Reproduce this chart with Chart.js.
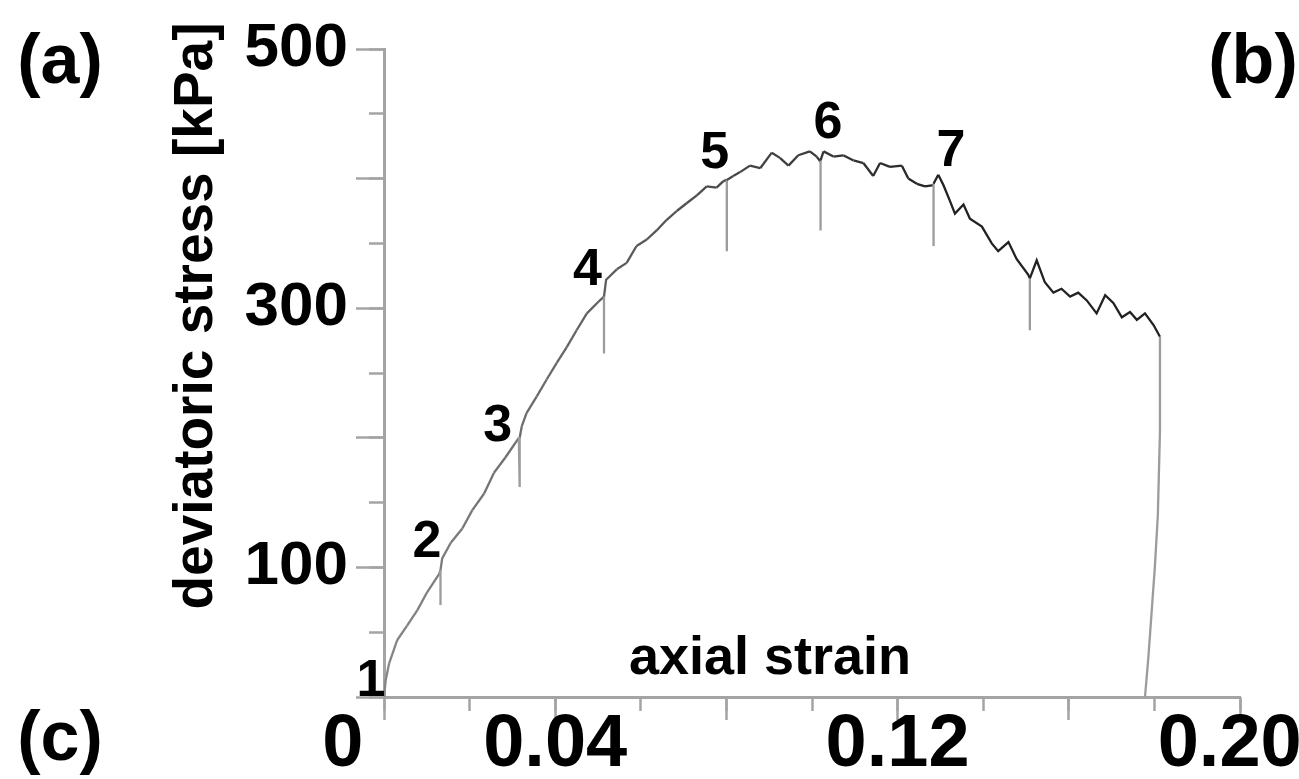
<!DOCTYPE html>
<html>
<head>
<meta charset="utf-8">
<style>
html,body{margin:0;padding:0;background:#fff;overflow:hidden}
#wrap{width:1299px;height:779px;position:relative}
</style>
<script src="https://cdn.jsdelivr.net/npm/chart.js@4.4.1/dist/chart.umd.min.js"></script>
</head>
<body>
<div id="wrap"><canvas id="c" width="1299" height="779"></canvas></div>
<script>
// ---- data ----
const strain = [
  0, 0.0004, 0.0012, 0.0031, 0.0054, 0.0078, 0.0101, 0.0129, 0.0132, 0.0132, 0.0132,
  0.0136, 0.0156, 0.0183, 0.0206, 0.0234, 0.0257, 0.0284, 0.0315, 0.0317, 0.0317,
  0.0322, 0.0333, 0.0357, 0.0380, 0.0404, 0.0427, 0.0450, 0.0474, 0.0501, 0.0514, 0.0514, 0.0514,
  0.0519, 0.0544, 0.0567, 0.0590, 0.0614, 0.0637, 0.0660, 0.0684, 0.0707, 0.0731, 0.0754, 0.0777, 0.0793, 0.0801, 0.0801, 0.0801,
  0.0816, 0.0832, 0.0855, 0.0879, 0.0906, 0.0925, 0.0945, 0.0968, 0.0995, 0.1011, 0.1020, 0.1020, 0.1020,
  0.1027, 0.1050, 0.1073, 0.1097, 0.1120, 0.1143, 0.1159, 0.1182, 0.1210, 0.1225, 0.1245, 0.1264, 0.1284, 0.1284, 0.1284,
  0.1295, 0.1307, 0.1322, 0.1334, 0.1354, 0.1369, 0.1397, 0.1420, 0.1435, 0.1459, 0.1478, 0.1505, 0.1509, 0.1509, 0.1509,
  0.1525, 0.1544, 0.1564, 0.1583, 0.1603, 0.1622, 0.1642, 0.1665, 0.1685, 0.1704, 0.1724, 0.1743, 0.1759, 0.1778, 0.1798, 0.1813,
  0.1813, 0.1808, 0.1801, 0.1786, 0.1778
];
const stress = [
  0, 13, 26, 44, 55, 67, 81, 95, 98, 71, 98,
  107, 119, 130, 144, 157, 173, 185, 200, 162, 200,
  209, 219, 232, 245, 258, 270, 283, 296, 305, 309, 265, 309,
  322, 330, 335, 348, 353, 360, 368, 375, 381, 387, 394, 393, 398, 399, 344, 399,
  402, 405, 410, 408, 420, 416, 410, 418, 421, 417, 413, 360, 414,
  421, 417, 418, 414, 412, 402, 412, 409, 410, 400, 396, 394, 395, 348, 396,
  403, 395, 383, 373, 380, 369, 363, 350, 344, 351, 338, 326, 323, 283, 323,
  337, 320, 312, 315, 309, 312, 306, 296, 310, 304, 293, 297, 291, 296, 287, 278,
  205, 140, 100, 31, 0
];
const xTickLabels = ['0', '0.04', '0.12', '0.20'];
const yTickLabels = ['100', '300', '500'];
const stageNames  = ['1', '2', '3', '4', '5', '6', '7'];
const stageStrain = [0, 0.0132, 0.0317, 0.0514, 0.0801, 0.1020, 0.1284];
const stageStress = [0, 98, 200, 309, 399, 414, 395];
const xTitle = 'axial strain';
const yTitle = 'deviatoric stress [kPa]';
const panelLabels = ['(a)', '(b)', '(c)'];

// ---- styling / layout ----
const FONT = "'Liberation Sans', Arial, Helvetica, sans-serif";
const AXIS = '#a4a4a4';
const stageOffsets = [[-13,-15],[-13.5,-27],[-22,-11.5],[-16.5,-25.5],[-12,-26.5],[7.5,-37],[17.5,-33]];
const panelPos = [[60,64],[1253,64],[60,741]];

const points = strain.map((s, i) => ({x: s, y: stress[i]}));

function sameVal(a, b){ return Math.abs(a - b) < 1e-9; }

const textPlugin = {
  id: 'texts',
  afterDraw(chart){
    const {ctx} = chart;
    const xs = chart.scales.x, ys = chart.scales.y;
    ctx.save();
    ctx.fillStyle = '#000';
    ctx.textAlign = 'center';
    ctx.textBaseline = 'middle';
    ctx.font = `bold 52px ${FONT}`;
    stageNames.forEach((n, i) => {
      const px = xs.getPixelForValue(stageStrain[i]) + stageOffsets[i][0];
      const py = ys.getPixelForValue(stageStress[i]) + stageOffsets[i][1];
      ctx.fillText(n, px, py);
    });
    ctx.font = `bold 54px ${FONT}`;
    ctx.fillText(xTitle, 770, 659);
    ctx.save();
    ctx.translate(197, 316);
    ctx.rotate(-Math.PI / 2);
    ctx.font = `bold 55px ${FONT}`;
    ctx.fillText(yTitle, 0, 0);
    ctx.restore();
    ctx.font = `bold 70px ${FONT}`;
    panelLabels.forEach((t, i) => ctx.fillText(t, panelPos[i][0], panelPos[i][1]));
    ctx.restore();
  }
};

new Chart(document.getElementById('c'), {
  type: 'scatter',
  data: {
    datasets: [{
      data: points,
      showLine: true,
      borderWidth: 2.3,
      pointRadius: 0,
      tension: 0,
      xAxisID: 'x',
      yAxisID: 'y',
      segment: {
        borderColor: ctx => {
          const a = ctx.p0.parsed, b = ctx.p1.parsed;
          if (sameVal(a.x, b.x) || (b.y - a.y) < -25) return '#9c9c9c';
          const t = Math.min(1, a.x / 0.13);
          const g = Math.round(0x86 - t * (0x86 - 0x22));
          return `rgb(${g},${g},${g})`;
        }
      }
    }]
  },
  options: {
    responsive: false,
    devicePixelRatio: 1,
    animation: false,
    events: [],
    layout: { padding: { left: 0, top: 49, right: 59, bottom: 0 } },
    plugins: { legend: { display: false }, tooltip: { enabled: false }, title: { display: false } },
    scales: {
      x: {
        type: 'linear', position: 'bottom', weight: 1, min: 0, max: 0.2,
        border: { display: true, color: AXIS, width: 3 },
        grid: { drawOnChartArea: false, drawTicks: true, tickLength: 23, tickColor: AXIS, tickWidth: 2.5 },
        ticks: {
          stepSize: 0.04, autoSkip: false, maxRotation: 0, minRotation: 0, padding: -19,
          color: '#000', font: { family: FONT, size: 74, weight: 'bold' },
          callback: v => {
            const l = xTickLabels.find(t => sameVal(parseFloat(t), v));
            if (l === undefined) return '';
            if (sameVal(v, 0)) return l + '    ';
            if (sameVal(v, 0.2)) return l + ' ';
            return l;
          }
        },
        afterFit(s){ s.height = 82; s.paddingLeft = 0; s.paddingRight = 0; }
      },
      xMinor: {
        type: 'linear', position: 'bottom', weight: 0, min: 0, max: 0.2,
        border: { display: false },
        grid: { drawOnChartArea: false, drawTicks: true, tickLength: 14, tickColor: AXIS, tickWidth: 2.5 },
        ticks: { display: false, stepSize: 0.02, autoSkip: false, maxRotation: 0 },
        afterFit(s){ s.height = 0; s.paddingLeft = 0; s.paddingRight = 0; }
      },
      y: {
        type: 'linear', position: 'left', weight: 1, min: 0, max: 500,
        border: { display: true, color: AXIS, width: 3 },
        grid: { drawOnChartArea: false, drawTicks: true, tickLength: 28, tickColor: AXIS, tickWidth: 2.5 },
        ticks: {
          stepSize: 100, autoSkip: false, padding: 8,
          color: '#000', font: { family: FONT, size: 62, weight: 'bold' },
          callback: v => {
            const l = yTickLabels.find(t => sameVal(parseFloat(t), v));
            return l === undefined ? '' : l;
          }
        },
        afterFit(s){ s.width = 384; s.paddingTop = 0; s.paddingBottom = 0; }
      },
      yMinor: {
        type: 'linear', position: 'left', weight: 0, min: 0, max: 500,
        border: { display: false },
        grid: { drawOnChartArea: false, drawTicks: true, tickLength: 15, tickColor: AXIS, tickWidth: 2.5 },
        ticks: { display: false, stepSize: 50, autoSkip: false },
        afterFit(s){ s.width = 0; s.paddingTop = 0; s.paddingBottom = 0; }
      }
    }
  },
  plugins: [textPlugin]
});
</script>
</body>
</html>
